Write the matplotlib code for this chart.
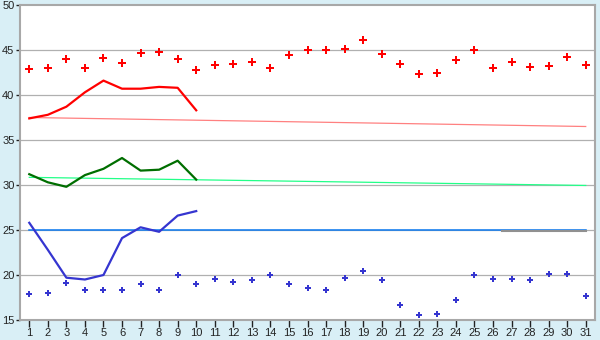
import numpy as np
import matplotlib.pyplot as plt

plt.rcParams['font.family'] = ['Liberation Sans', 'DejaVu Sans']

days = np.arange(1, 32)

# upper scatter (red) and lower scatter (blue), one per day
red_pts = [42.9, 43.0, 44.0, 43.0, 44.1, 43.6, 44.7, 44.8, 44.0, 42.8,
           43.3, 43.4, 43.7, 43.0, 44.5, 45.0, 45.0, 45.1, 46.1, 44.6,
           43.4, 42.3, 42.5, 43.9, 45.0, 43.0, 43.7, 43.1, 43.2, 44.2, 43.3]
blue_pts = [17.9, 18.0, 19.1, 18.3, 18.3, 18.3, 19.0, 18.3, 20.0, 19.0,
            19.6, 19.2, 19.4, 20.0, 19.0, 18.6, 18.3, 19.7, 20.4, 19.4,
            16.7, 15.6, 15.7, 17.2, 20.0, 19.6, 19.6, 19.4, 20.1, 20.1, 17.7]

# lines for the first ten days
line_days = np.arange(1, 11)
red_line = [37.4, 37.8, 38.7, 40.3, 41.6, 40.7, 40.7, 40.9, 40.8, 38.3]
green_line = [31.2, 30.3, 29.8, 31.1, 31.8, 33.0, 31.6, 31.7, 32.7, 30.6]
blue_line = [25.8, 22.8, 19.7, 19.5, 20.0, 24.1, 25.3, 24.8, 26.6, 27.1]

# trend / reference lines (start, end)
pink_trend = [37.5, 36.5]
lgreen_trend = [30.85, 29.95]
blue_ref = [25.0, 25.0]
gray_ref = [24.9, 24.9]

fig = plt.figure(figsize=(6, 3.4), dpi=100, facecolor='#d9eff6')
ax = fig.add_axes([20/600, 20/340, 575/600, 315/340])
ax.set_facecolor('white')

ax.set_xlim(0.5, 31.5)
ax.set_ylim(15, 50)
ax.set_yticks(range(15, 51, 5))
ax.set_xticks(days)
for y in range(20, 50, 5):
    ax.axhline(y, color='#b0b0b0', lw=0.9, zorder=0)

ax.plot([1, 31], pink_trend, color='#ff8080', lw=0.9, zorder=2)
ax.plot([1, 31], lgreen_trend, color='#22ff88', lw=0.9, zorder=2)
ax.plot([1, 31], blue_ref, color='#0a78f0', lw=1.1, zorder=2)
ax.plot([26.5, 31], gray_ref, color='#909090', lw=1.5, zorder=2)

ax.plot(line_days, red_line, color='#ff0000', lw=1.6, zorder=3)
ax.plot(line_days, green_line, color='#006e00', lw=1.6, zorder=3)
ax.plot(line_days, blue_line, color='#3535d0', lw=1.6, zorder=3)

ax.plot(days, red_pts, ls='none', marker='P', ms=5.5, color='#ff0000',
        markeredgewidth=0, zorder=4)
ax.plot(days, blue_pts, ls='none', marker='P', ms=4.5, color='#3535d0',
        markeredgewidth=0, zorder=4)

for s in ax.spines.values():
    s.set_color('#a8a8a8')
    s.set_linewidth(1.5)
ax.tick_params(axis='both', colors='#222222', labelsize=8, width=1)
ax.tick_params(axis='y', length=3, pad=1)
ax.tick_params(axis='x', length=5, pad=1)

fig.savefig('out.png', dpi=100, facecolor=fig.get_facecolor())
